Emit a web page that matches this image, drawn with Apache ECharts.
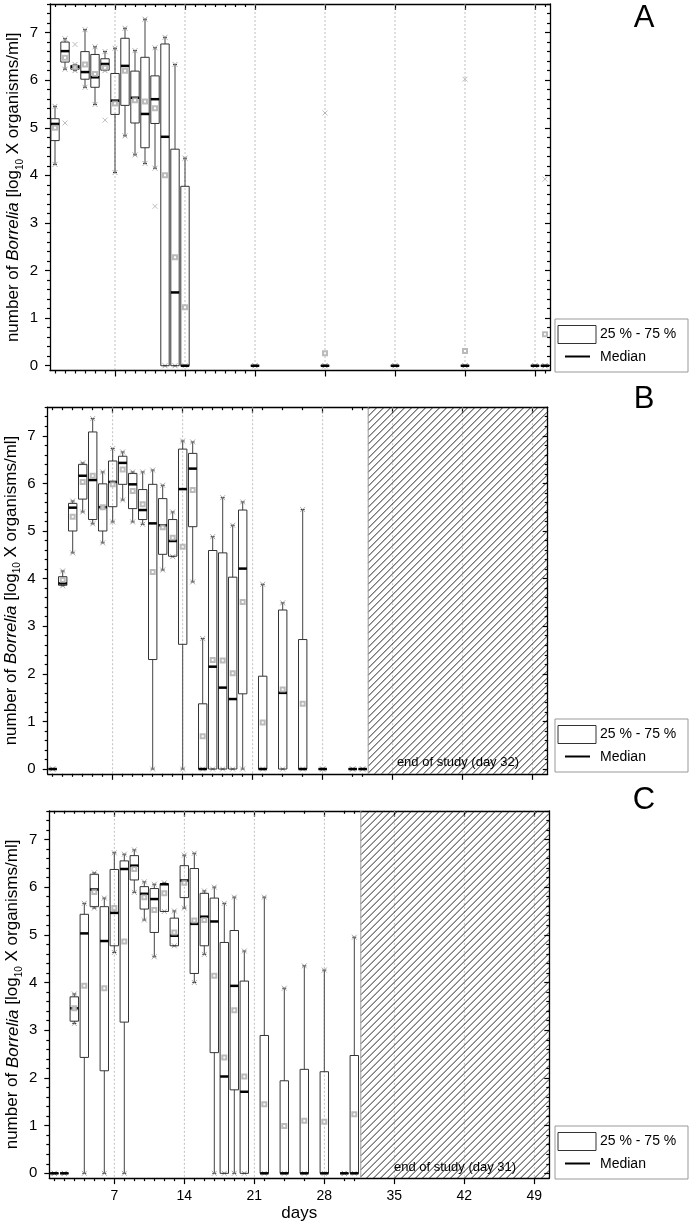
<!DOCTYPE html>
<html><head><meta charset="utf-8">
<script src="https://cdn.jsdelivr.net/npm/echarts@6/dist/echarts.min.js"></script>
<style>html,body{margin:0;padding:0;background:#fff}#c{width:692px;height:1225px}</style>
</head><body><div id="c"></div><script>
const FONT = 'Liberation Sans, Arial, Helvetica, sans-serif';

// ---------- Panel A ----------
const daysA  = [1,2,3,4,5,6,7,8,9,10,11,12,13,14,21,28,35,42,49,50];
const q1A    = [4.73,6.38,6.23,6.02,5.85,6.21,5.28,5.47,5.10,4.58,5.09,0,0,0,0,0,0,0,0,0];
const medA   = [5.08,6.61,6.28,6.17,6.06,6.34,5.57,6.30,5.63,5.29,5.60,4.81,1.54,0,0,0,0,0,0,0];
const q3A    = [5.19,6.80,6.31,6.60,6.54,6.45,6.14,6.88,6.19,6.48,6.09,6.76,4.55,3.77,0,0,0,0,0,0];
const loA    = [4.23,6.23,6.20,5.85,5.49,6.20,4.06,4.83,4.43,4.25,4.15,0,0,0,0,0,0,0,0,0];
const hiA    = [5.45,6.87,6.33,7.06,6.70,6.60,6.67,7.09,6.62,7.28,6.68,6.90,6.33,4.36,0,0,0,0,0,0];
const meanA  = [5.00,6.47,6.27,6.33,6.13,6.26,5.51,6.20,5.58,5.55,5.41,4.00,2.28,1.23,0,0.26,0,0.31,0,0.66];
const outliersA = [[2,5.10],[3,6.75],[6,5.16],[11,3.35],[28,5.31],[42,6.02],[50,3.92]];
const minorTicksA = [1,2,3,4,5,6,8,9,10,11,12,13,15,16,17,18,19,20,50];

// ---------- Panel B ----------
const daysB  = [1,2,3,4,5,6,7,8,9,10,11,12,13,14,15,16,17,18,19,20,22,24,26,28,31,32];
const q1B    = [0,3.86,5.00,5.67,5.24,5.00,5.51,5.98,5.47,5.24,2.30,4.51,4.47,2.62,5.09,0,0,0,0,1.58,0,0,0,0,0,0];
const medB   = [0,3.90,5.49,6.16,6.07,5.50,6.03,6.43,5.98,5.44,5.16,5.12,4.79,5.88,6.31,0,2.15,1.71,1.47,4.21,0,1.60,0,0,0,0];
const q3B    = [0,4.04,5.58,6.40,7.08,5.99,6.47,6.57,6.21,5.87,5.98,5.68,5.24,6.72,6.63,1.37,4.59,4.54,4.03,5.44,1.95,3.34,2.72,0,0,0];
const loB    = [0,3.85,4.54,5.40,5.15,4.75,5.19,5.65,5.19,5.14,0,4.18,4.46,0,3.93,0,0,0,0,0,0,0,0,0,0,0];
const hiB    = [0,4.16,5.63,6.43,7.36,6.24,6.73,6.66,6.24,6.24,6.28,5.96,5.40,6.89,6.87,2.74,4.88,5.70,5.12,5.61,3.88,3.49,5.45,0,0,0];
const meanB  = [0,3.97,5.30,6.03,6.16,5.50,5.98,6.29,5.84,5.56,4.14,5.08,4.86,4.67,5.86,0.69,2.29,2.28,2.01,3.51,0.98,1.67,1.37,0,0,0];
const outliersB = [];
const minorTicksB = [1,2,3,4,5,6,8,9,10,11,12,13,15,16,17,18,19,20,22,24,26,31,32];
const endStudyB = 32.55;
const endLabelB = 'end of study (day 32)';

// ---------- Panel C ----------
const daysC  = [1,2,3,4,5,6,7,8,9,10,11,12,13,14,15,16,17,18,19,20,22,24,26,28,30,31];
const q1C    = [0,0,3.19,2.43,5.59,2.15,4.77,3.17,6.15,5.54,5.05,5.49,4.77,5.78,4.19,4.77,2.53,0,1.75,0,0,0,0,0,0,0];
const medC   = [0,0,3.46,5.03,5.95,4.87,5.46,6.38,6.45,5.86,5.75,6.06,4.98,6.14,5.23,5.38,5.28,2.03,3.93,1.71,0,0,0,0,0,0];
const q3C    = [0,0,3.70,5.43,6.27,5.59,6.37,6.55,6.66,6.01,5.97,6.07,5.35,6.45,6.39,5.87,5.77,4.84,5.09,4.03,2.89,1.94,2.18,2.13,0,2.47];
const loC    = [0,0,3.14,0,5.56,0,4.63,0,5.89,5.31,4.54,5.49,4.77,5.56,4.00,4.59,0,0,0,0,0,0,0,0,0,0];
const hiC    = [0,0,3.76,5.66,6.30,5.77,6.72,6.69,6.78,6.11,6.06,6.09,5.50,6.67,6.71,5.92,6.00,5.66,5.79,4.66,5.79,3.88,4.35,4.26,0,4.95];
const meanC  = [0,0,3.46,3.93,5.90,3.88,5.56,4.86,6.38,5.79,5.52,5.87,5.05,6.09,5.30,5.31,4.14,2.43,3.42,2.03,1.45,0.99,1.10,1.08,0,1.24];
const outliersC = [];
const minorTicksC = [1,2,3,4,5,6,8,9,10,11,12,13,15,16,17,18,19,20,22,24,26,30,31];
const endStudyC = 31.65;
const endLabelC = 'end of study (day 31)';

// ---------- shared axis ticks ----------
const majorDays = [7,14,21,28,35,42,49];
const yMajor = [0,1,2,3,4,5,6,7];
const yMinor = [];
for (let k = 1; k <= 38; k++) if (k % 5 !== 0) yMinor.push(k / 5);
const X_MIN = 0.5, X_MAX = 50.5, Y_MIN = -0.1, Y_MAX = 7.6;

const panels = [
  {days: daysA, q1: q1A, med: medA, q3: q3A, lo: loA, hi: hiA, mean: meanA, out: outliersA, minor: minorTicksA,
   grid: {left: 50, top: 4, width: 500, height: 366.5}, labels: false, letter: 'A', letterY: 18, legendTop: 319},
  {days: daysB, q1: q1B, med: medB, q3: q3B, lo: loB, hi: hiB, mean: meanB, out: outliersB, minor: minorTicksB,
   grid: {left: 47.7, top: 407.2, width: 500, height: 366.6}, labels: false, letter: 'B', letterY: 399, legendTop: 719,
   hatch: endStudyB, hatchLabel: endLabelB},
  {days: daysC, q1: q1C, med: medC, q3: q3C, lo: loC, hi: hiC, mean: meanC, out: outliersC, minor: minorTicksC,
   grid: {left: 49.3, top: 810.8, width: 500, height: 367.3}, labels: true, letter: 'C', letterY: 800, legendTop: 1126,
   hatch: endStudyC, hatchLabel: endLabelC}
];

const AXC = '#000';
function xAx(gi, pos, vals, len, inside, showLine, labels) {
  return {
    type: 'value', gridIndex: gi, position: pos, min: X_MIN, max: X_MAX,
    axisLine: {show: showLine, onZero: false, lineStyle: {color: AXC, width: 1.3}},
    axisTick: {show: true, inside: inside, length: len, customValues: vals, lineStyle: {color: AXC, width: 1.2}},
    axisLabel: {show: !!labels, customValues: vals, margin: 11, color: '#000', fontSize: 14, fontFamily: FONT},
    splitLine: {show: false}, minorTick: {show: false},
    name: labels ? 'days' : '', nameLocation: 'middle', nameGap: 27,
    nameTextStyle: {fontSize: 17, fontFamily: FONT, color: '#000'}
  };
}
function yAx(gi, pos, vals, len, inside, showLine, labels, name) {
  return {
    type: 'value', gridIndex: gi, position: pos, min: Y_MIN, max: Y_MAX,
    axisLine: {show: showLine, onZero: false, lineStyle: {color: AXC, width: 1.3}},
    axisTick: {show: true, inside: inside, length: len, customValues: vals, lineStyle: {color: AXC, width: 1.2}},
    axisLabel: {show: !!labels, customValues: vals, margin: 12, color: '#000', fontSize: 15, fontFamily: FONT},
    splitLine: {show: false},
    name: name ? '{n|number of }{i|Borrelia}{n| [log}{s|10}{n| X organisms/ml]}' : '',
    nameLocation: 'middle', nameRotate: 90, nameGap: 25, nameMoveOverlap: false,
    nameTextStyle: {fontFamily: FONT, color: '#000', fontSize: 17,
      rich: {n: {fontSize: 17, fontFamily: FONT, color: '#000', lineHeight: 23},
             i: {fontSize: 17, fontFamily: FONT, color: '#000', fontStyle: 'italic', lineHeight: 23},
             s: {fontSize: 10, fontFamily: FONT, color: '#000', lineHeight: 10, verticalAlign: 'bottom'}}}
  };
}

const crossPath = 'path://M0,0L10,10M10,0L0,10';

function renderBox(params, api) {
  const d = api.value(0), q1 = api.value(1), med = api.value(2), q3 = api.value(3), lo = api.value(4), hi = api.value(5);
  const hw = api.size([0.42, 0])[0];
  const pq1 = api.coord([d, q1]), pq3 = api.coord([d, q3]), pm = api.coord([d, med]);
  const plo = api.coord([d, lo]), phi = api.coord([d, hi]);
  const x = pm[0];
  const ch = [];
  if (hi > q3) ch.push({type: 'line', shape: {x1: x, y1: pq3[1], x2: x, y2: phi[1]}, style: {stroke: '#444', lineWidth: 1}});
  if (lo < q1) ch.push({type: 'line', shape: {x1: x, y1: pq1[1], x2: x, y2: plo[1]}, style: {stroke: '#444', lineWidth: 1}});
  [plo, phi].forEach(p => {
    ch.push({type: 'line', shape: {x1: x - 2, y1: p[1], x2: x + 2, y2: p[1]}, style: {stroke: '#333', lineWidth: 1}});
    ch.push({type: 'polyline', shape: {points: [[x - 2.5, p[1] - 2.5], [x + 2.5, p[1] + 2.5]]}, style: {stroke: '#888', lineWidth: 0.7, fill: null}});
    ch.push({type: 'polyline', shape: {points: [[x + 2.5, p[1] - 2.5], [x - 2.5, p[1] + 2.5]]}, style: {stroke: '#888', lineWidth: 0.7, fill: null}});
  });
  ch.push({type: 'rect', shape: {x: x - hw, y: pq3[1], width: 2 * hw, height: pq1[1] - pq3[1]},
           style: {fill: null, stroke: '#333', lineWidth: 1}});
  ch.push({type: 'line', shape: {x1: x - hw, y1: pm[1], x2: x + hw, y2: pm[1]}, style: {stroke: '#000', lineWidth: 2.5}});
  return {type: 'group', children: ch};
}

function renderGridLine(params, api) {
  const d = api.value(0);
  const a = api.coord([d, Y_MAX]), b = api.coord([d, Y_MIN]);
  return {type: 'line', shape: {x1: a[0], y1: a[1], x2: b[0], y2: b[1]},
          style: {stroke: '#b0b0b0', lineWidth: 0.8, lineDash: [2, 2]}};
}

function makeHatch(label) {
  return function (params, api) {
    const s = api.value(0);
    const p0 = api.coord([s, Y_MAX]), p1 = api.coord([X_MAX, Y_MIN]);
    const x0 = p0[0], y0 = p0[1], x1 = p1[0], y1 = p1[1];
    const ch = [];
    const step = 7;
    for (let c = x0 + y0 + 2; c < x1 + y1; c += step) {
      const xa = Math.max(x0, c - y1), xb = Math.min(x1, c - y0);
      if (xb > xa) ch.push({type: 'line', shape: {x1: xa, y1: c - xa, x2: xb, y2: c - xb},
                              style: {stroke: '#111', lineWidth: 0.9}});
    }
    ch.push({type: 'line', shape: {x1: x0, y1: y0, x2: x0, y2: y1}, style: {stroke: '#999', lineWidth: 1}});
    ch.push({type: 'text', style: {text: label, x: (x0 + x1) / 2, y: y1 - 11, align: 'center', verticalAlign: 'middle',
             fontSize: 13, fontFamily: FONT, fill: '#000'}});
    return {type: 'group', children: ch};
  };
}

const grids = [], xAxes = [], yAxes = [], series = [], graphics = [];
panels.forEach((p, i) => {
  grids.push(Object.assign({containLabel: false, outerBoundsMode: 'none'}, p.grid));
  const xb = xAxes.length;
  xAxes.push(xAx(i, 'bottom', majorDays, 6, false, true, p.labels));
  xAxes.push(xAx(i, 'bottom', p.minor, 3, false, false, false));
  xAxes.push(xAx(i, 'top', majorDays, 6, true, true, false));
  xAxes.push(xAx(i, 'top', p.minor, 3, true, false, false));
  const yb = yAxes.length;
  yAxes.push(yAx(i, 'left', yMajor, 5, false, true, true, true));
  yAxes.push(yAx(i, 'left', yMinor, 3, false, false, false, false));
  yAxes.push(yAx(i, 'right', yMajor, 5, true, true, false, false));
  yAxes.push(yAx(i, 'right', yMinor, 3, true, false, false, false));

  series.push({type: 'custom', xAxisIndex: xb, yAxisIndex: yb, z: 1, silent: true,
    data: majorDays.map(d => [d]), encode: {x: 0}, renderItem: renderGridLine});
  if (p.hatch) {
    series.push({type: 'custom', xAxisIndex: xb, yAxisIndex: yb, z: 2, silent: true,
      data: [[p.hatch]], encode: {x: 0}, renderItem: makeHatch(p.hatchLabel)});
  }
  series.push({type: 'custom', xAxisIndex: xb, yAxisIndex: yb, z: 3, silent: true,
    data: p.days.map((d, k) => [d, p.q1[k], p.med[k], p.q3[k], p.lo[k], p.hi[k]]),
    encode: {x: 0, y: [1, 2, 3, 4, 5]}, renderItem: renderBox});
  series.push({type: 'scatter', xAxisIndex: xb, yAxisIndex: yb, z: 4, silent: true,
    symbol: 'emptyRect', symbolSize: 4,
    itemStyle: {color: '#aaaaaa', borderWidth: 0.7},
    data: p.days.map((d, k) => [d, p.mean[k]]).filter(v => v[1] > 0)});
  if (p.out.length) {
    series.push({type: 'scatter', xAxisIndex: xb, yAxisIndex: yb, z: 4, silent: true,
      symbol: crossPath, symbolSize: 5,
      itemStyle: {color: 'none', borderColor: '#999', borderWidth: 0.8},
      data: p.out});
  }

  graphics.push({type: 'text', x: 644, y: p.letterY, style: {text: p.letter, fontSize: 31, fontFamily: FONT,
    fill: '#000', align: 'center', verticalAlign: 'middle'}});
  const t = p.legendTop;
  graphics.push({type: 'rect', shape: {x: 555, y: t, width: 133, height: 53}, style: {fill: '#fff', stroke: '#999', lineWidth: 1}});
  graphics.push({type: 'rect', shape: {x: 558, y: t + 6.5, width: 38, height: 18}, style: {fill: '#fff', stroke: '#333', lineWidth: 1}});
  graphics.push({type: 'text', x: 600, y: t + 15.5, style: {text: '25 % - 75 %', fontSize: 14, fontFamily: FONT, fill: '#000', verticalAlign: 'middle'}});
  graphics.push({type: 'line', shape: {x1: 565, y1: t + 37.5, x2: 590, y2: t + 37.5}, style: {stroke: '#000', lineWidth: 2}});
  graphics.push({type: 'text', x: 600, y: t + 38, style: {text: 'Median', fontSize: 14, fontFamily: FONT, fill: '#000', verticalAlign: 'middle'}});
});

const chart = echarts.init(document.getElementById('c'), null, {renderer: 'canvas'});
chart.setOption({
  animation: false,
  backgroundColor: '#fff',
  textStyle: {fontFamily: FONT},
  grid: grids, xAxis: xAxes, yAxis: yAxes, series: series,
  graphic: graphics
});
</script></body></html>
